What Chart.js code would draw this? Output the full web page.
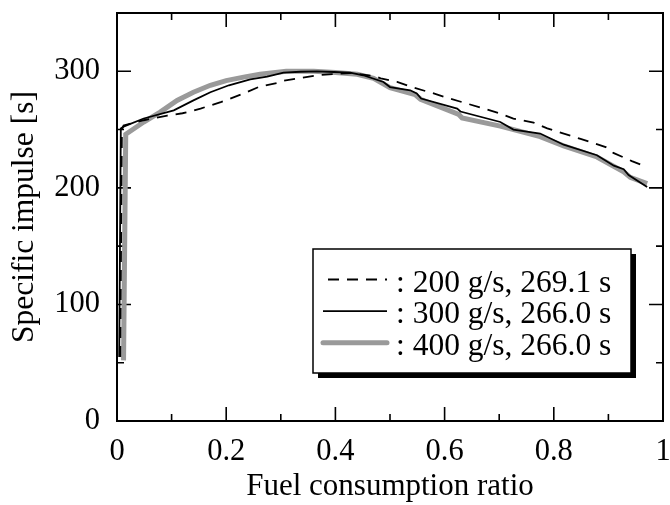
<!DOCTYPE html>
<html>
<head>
<meta charset="utf-8">
<title>Specific impulse vs fuel consumption ratio</title>
<script src="https://cdn.jsdelivr.net/npm/chart.js@4.4.1/dist/chart.umd.min.js"></script>
<style>
    body { margin: 0; background: #fff; }
    #wrap { width: 670px; height: 505px; }
</style>
</head>
<body>
<div id="wrap"><canvas id="ispChart" width="670" height="505"></canvas></div>
<script>
// Values
const x200 = [0.006, 0.009, 0.012, 0.049, 0.092, 0.12, 0.134, 0.153, 0.19, 0.232, 0.262, 0.293, 0.305, 0.366, 0.372, 0.427, 0.47, 0.483, 0.513, 0.543, 0.58, 0.604, 0.641, 0.665, 0.702, 0.726, 0.763, 0.788, 0.849, 0.895, 0.909, 0.943, 0.97];
const y200 = [55, 250, 253.5, 258, 262, 264, 265.5, 268, 273.5, 281, 287, 290, 292, 296.5, 296.8, 298.5, 296, 294, 291, 286, 281, 277.4, 272.3, 269, 263.7, 259.4, 256, 251, 242, 235, 230, 223, 218];

const x300 = [0.004, 0.007, 0.012, 0.049, 0.104, 0.14, 0.171, 0.205, 0.244, 0.275, 0.305, 0.336, 0.366, 0.397, 0.427, 0.451, 0.488, 0.5, 0.537, 0.549, 0.557, 0.623, 0.629, 0.702, 0.726, 0.775, 0.818, 0.879, 0.91, 0.928, 0.937, 0.971];
const y300 = [55, 251, 252.5, 259.5, 266.5, 275, 282, 288, 293, 295.5, 298.8, 299.6, 300, 299.4, 298.8, 296.6, 290.8, 286.5, 283.7, 281, 276.6, 268, 265.5, 256.5, 250, 246.6, 237, 228, 219, 216, 211, 200.8];

const x400 = [0.012, 0.016, 0.049, 0.079, 0.11, 0.14, 0.171, 0.2, 0.232, 0.262, 0.31, 0.36, 0.4, 0.44, 0.47, 0.5, 0.546, 0.556, 0.626, 0.632, 0.702, 0.775, 0.818, 0.879, 0.928, 0.94, 0.971];
const y400 = [52, 246, 256.5, 265, 275, 282, 288, 292, 295, 297.4, 300, 300, 299, 297.5, 294, 286, 280, 276, 263, 260, 253, 244, 236, 226.5, 213.7, 209, 203.7];

const seriesLabels = [': 200 g/s, 269.1 s', ': 300 g/s, 266.0 s', ': 400 g/s, 266.0 s'];

const xTickStep = 0.1;
const yTickStep = 50;

const FONT = "'Liberation Serif', 'Times New Roman', serif";

function toPoints(xs, ys) {
    return xs.map((x, i) => ({ x: x, y: ys[i] }));
}

// inward ticks on all four sides + frame
const frameTicks = {
    id: 'frameTicks',
    beforeDatasetsDraw(chart) {
        const ctx = chart.ctx;
        const a = chart.chartArea;
        const xs = chart.scales.x;
        const ys = chart.scales.y;
        ctx.save();
        ctx.strokeStyle = '#000';
        ctx.lineWidth = 1.6;
        ctx.beginPath();
        xs.ticks.forEach(t => {
            const p = xs.getPixelForValue(t.value);
            const len = Math.round(t.value * 10) % 2 === 0 ? 14 : 7;
            ctx.moveTo(p, a.bottom); ctx.lineTo(p, a.bottom - len);
            ctx.moveTo(p, a.top); ctx.lineTo(p, a.top + len);
        });
        ys.ticks.forEach(t => {
            const p = ys.getPixelForValue(t.value);
            const len = Math.round(t.value) % 100 === 0 ? 14 : 7;
            ctx.moveTo(a.left, p); ctx.lineTo(a.left + len, p);
            ctx.moveTo(a.right, p); ctx.lineTo(a.right - len, p);
        });
        ctx.stroke();
        ctx.lineWidth = 2;
        ctx.strokeRect(a.left, a.top, a.right - a.left, a.bottom - a.top);
        ctx.restore();
    }
};

// boxed legend with drop shadow inside the plot
const boxLegend = {
    id: 'boxLegend',
    afterDraw(chart) {
        const ctx = chart.ctx;
        const bx = 313, by = 249, bw = 318, bh = 124;
        ctx.save();
        ctx.fillStyle = '#000';
        ctx.fillRect(bx + 5, by + 5, bw, bh);
        ctx.fillStyle = '#fff';
        ctx.fillRect(bx, by, bw, bh);
        ctx.strokeStyle = '#000';
        ctx.lineWidth = 1.5;
        ctx.strokeRect(bx, by, bw, bh);

        ctx.font = '31.5px ' + FONT;
        ctx.textBaseline = 'middle';
        ctx.textAlign = 'left';
        chart.data.datasets.forEach((ds, i) => {
            const cy = 283.5 + i * 31.6;
            ctx.beginPath();
            ctx.strokeStyle = ds.borderColor;
            ctx.lineWidth = ds.borderWidth;
            ctx.lineCap = i === 2 ? 'round' : 'butt';
            ctx.setLineDash(ds.borderDash || []);
            ctx.moveTo(i === 0 ? 328 : 323, cy - 4);
            ctx.lineTo(387, cy - 4);
            ctx.stroke();
            ctx.setLineDash([]);
            ctx.fillStyle = '#000';
            ctx.fillText(ds.label, 396, cy);
        });
        ctx.restore();
    }
};

new Chart(document.getElementById('ispChart'), {
    type: 'line',
    data: {
        datasets: [
            { label: seriesLabels[0], data: toPoints(x200, y200), borderColor: '#000', borderWidth: 1.8, borderDash: [11, 8] },
            { label: seriesLabels[1], data: toPoints(x300, y300), borderColor: '#000', borderWidth: 1.8 },
            { label: seriesLabels[2], data: toPoints(x400, y400), borderColor: '#9a9a9a', borderWidth: 5 }
        ]
    },
    options: {
        responsive: false,
        animation: false,
        devicePixelRatio: 1,
        layout: { padding: { top: 13, right: 7, left: 0, bottom: 0 } },
        elements: { point: { radius: 0 }, line: { tension: 0 } },
        plugins: { legend: { display: false }, tooltip: { enabled: false } },
        scales: {
            x: {
                type: 'linear',
                min: 0,
                max: 1,
                grid: { display: false },
                border: { display: false },
                ticks: {
                    stepSize: xTickStep,
                    autoSkip: false,
                    maxRotation: 0,
                    padding: 5,
                    color: '#000',
                    font: { family: FONT, size: 30.5 },
                    callback: v => (Math.round(v * 10) % 2 === 0 ? String(Math.round(v * 10) / 10) : '')
                },
                title: {
                    display: true,
                    text: 'Fuel consumption ratio',
                    color: '#000',
                    font: { family: FONT, size: 31, lineHeight: 1 },
                    padding: { top: 0, bottom: 3 }
                },
                afterFit: s => { s.height = 84; s.paddingLeft = 0; s.paddingRight = 0; }
            },
            y: {
                min: 0,
                max: 350,
                grid: { display: false },
                border: { display: false },
                ticks: {
                    stepSize: yTickStep,
                    autoSkip: false,
                    padding: 9,
                    color: '#000',
                    font: { family: FONT, size: 30.5 },
                    callback: v => (v % 100 === 0 && v < 350 ? String(v) : '')
                },
                title: {
                    display: true,
                    text: 'Specific impulse [s]',
                    color: '#000',
                    font: { family: FONT, size: 31.5, lineHeight: 1 },
                    padding: { top: 9, bottom: 0 }
                },
                afterFit: s => { s.width = 117; s.paddingTop = 0; s.paddingBottom = 0; }
            }
        }
    },
    plugins: [frameTicks, boxLegend]
});
</script>
</body>
</html>
